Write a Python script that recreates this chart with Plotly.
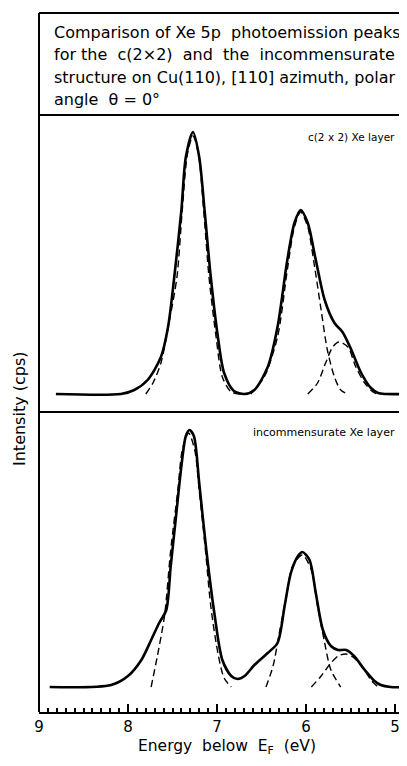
import plotly.graph_objects as go

# ---------------- data ----------------
# energies in eV below E_F, intensities in arbitrary units
top_solid_E = [8.81, 8.08, 7.93, 7.78, 7.63, 7.55, 7.48, 7.40, 7.35, 7.27, 7.20, 7.14, 7.07, 6.99, 6.92,
               6.81, 6.69, 6.58, 6.43, 6.32, 6.21, 6.13, 6.06, 5.98, 5.89, 5.79, 5.68, 5.59, 5.49,
               5.38, 5.27, 5.19, 5.10, 4.85]
top_solid_I = [0, 0, 4, 14, 37, 67, 117, 184, 237, 262, 237, 184, 117, 57, 21,
               3, 0, 4, 27, 67, 134, 171, 184, 171, 134, 94, 71, 62, 44,
               21, 6, 1, 0, 0]

top_dash1_E = [7.80, 7.72, 7.63, 7.54, 7.45, 7.39, 7.33, 7.27, 7.21, 7.15, 7.09, 7.01, 6.94, 6.84, 6.74]
top_dash1_I = [0, 11, 31, 71, 117, 184, 241, 258, 241, 184, 117, 57, 17, 2, 0]

top_dash2_E = [6.62, 6.47, 6.32, 6.21, 6.13, 6.06, 5.98, 5.91, 5.83, 5.76, 5.68, 5.61, 5.53]
top_dash2_I = [0, 17, 57, 124, 167, 182, 167, 131, 84, 44, 17, 4, 0]

top_dash3_E = [5.98, 5.87, 5.78, 5.70, 5.63, 5.53, 5.44, 5.34, 5.23, 5.16]
top_dash3_I = [0, 11, 31, 47, 52, 47, 27, 11, 1, 0]

bot_solid_E = [8.88, 8.19, 8.00, 7.85, 7.74, 7.65, 7.57, 7.52, 7.46, 7.40, 7.35, 7.31, 7.26, 7.20, 7.12,
               7.03, 6.94, 6.84, 6.77, 6.69, 6.58, 6.43, 6.32, 6.24, 6.17, 6.09, 6.04, 5.96, 5.89,
               5.81, 5.72, 5.64, 5.55, 5.46, 5.34, 5.23, 5.16, 5.05, 4.85]
bot_solid_I = [0, 2, 11, 27, 47, 64, 77, 121, 171, 221, 251, 257, 251, 204, 137,
               74, 27, 11, 8, 11, 22, 34, 44, 81, 114, 131, 135, 127, 94,
               57, 41, 37, 37, 31, 17, 6, 2, 0, 0]

bot_dash1_E = [7.74, 7.67, 7.59, 7.52, 7.44, 7.39, 7.32, 7.25, 7.20, 7.13, 7.07, 6.99, 6.92, 6.84]
bot_dash1_I = [0, 31, 71, 137, 197, 237, 254, 237, 197, 137, 81, 34, 9, 0]

bot_dash2_E = [6.45, 6.37, 6.30, 6.22, 6.15, 6.04, 5.94, 5.87, 5.79, 5.72, 5.61]
bot_dash2_I = [0, 21, 54, 91, 121, 132, 117, 81, 44, 17, 0]

bot_dash3_E = [5.94, 5.83, 5.72, 5.64, 5.55, 5.46, 5.36, 5.27, 5.19]
bot_dash3_I = [0, 11, 24, 31, 33, 29, 19, 7, 0]

x_ticks = [9, 8, 7, 6, 5]
x_tick_labels = ["9", "8", "7", "6", "5"]

title_lines = [
    "Comparison of Xe 5p  photoemission peaks",
    "for the  c(2\u00d72)  and  the  incommensurate",
    "structure on Cu(110), [110] azimuth, polar",
    "angle  \u03b8 = 0\u00b0",
]
top_label = "c(2 x 2) Xe layer"
bottom_label = "incommensurate Xe layer"
x_title = "Energy  below  E<sub>F</sub>  (eV)"
y_title = "Intensity (cps)"

# ---------------- figure ----------------
# the page body has an 8 px margin, so the figure is placed at (8, 8) in the window
OFF = 8
W, H = 407 - OFF, 766 - 2 * OFF
ML, MR, MT = 39 - OFF, 0, 13 - OFF
MB = H - (712 - OFF)
PW, PH = W - ML - MR, H - MT - MB

def py(pix):  # window pixel -> paper y
    return (H - MB - (pix - OFF)) / PH

def px(pix):  # window pixel -> paper x
    return (pix - OFF - ML) / PW

FONT = "DejaVu Sans"
solid = dict(color="black", width=2.6)
dashed = dict(color="black", width=1.4, dash="7px,4px")

fig = go.Figure()
for E, I, ln in [(top_dash1_E, top_dash1_I, dashed), (top_dash2_E, top_dash2_I, dashed),
                 (top_dash3_E, top_dash3_I, dashed), (top_solid_E, top_solid_I, solid)]:
    fig.add_trace(go.Scatter(x=E, y=I, mode="lines", line=dict(**ln, shape="spline", smoothing=0.8),
                             xaxis="x", yaxis="y2", showlegend=False, hoverinfo="skip"))
for E, I, ln in [(bot_dash1_E, bot_dash1_I, dashed), (bot_dash2_E, bot_dash2_I, dashed),
                 (bot_dash3_E, bot_dash3_I, dashed), (bot_solid_E, bot_solid_I, solid)]:
    fig.add_trace(go.Scatter(x=E, y=I, mode="lines", line=dict(**ln, shape="spline", smoothing=0.8),
                             xaxis="x", yaxis="y", showlegend=False, hoverinfo="skip"))

x_right = 9 - PW / 89.0
div = py(412)
tb = py(115)

fig.update_layout(
    width=W, height=H,
    margin=dict(l=ML, r=MR, t=MT, b=MB),
    paper_bgcolor="white", plot_bgcolor="white",
    font=dict(family=FONT, color="black"),
    xaxis=dict(range=[9, x_right], anchor="y", showgrid=False, zeroline=False,
               showline=True, linecolor="black", linewidth=2,
               ticks="inside", ticklen=8, tickwidth=2, tickcolor="black",
               tickvals=x_ticks, ticktext=x_tick_labels,
               tickfont=dict(family=FONT, size=15, color="black"),
               minor=dict(ticks="inside", dtick=0.1, ticklen=4, tickwidth=1.5, tickcolor="black", showgrid=False)),
    yaxis=dict(domain=[0, div], range=[-25, 275], visible=False, fixedrange=True),
    yaxis2=dict(domain=[div, tb], range=[-18, 279], visible=False, fixedrange=True),
)

line_k = dict(color="black", width=2)
shapes = [
    dict(type="line", xref="paper", yref="paper", x0=0, x1=0, y0=0, y1=1, line=line_k),
    dict(type="line", xref="paper", yref="paper", x0=0, x1=1.02, y0=1, y1=1, line=line_k),
    dict(type="line", xref="paper", yref="paper", x0=0, x1=1.02, y0=tb, y1=tb, line=line_k),
    dict(type="line", xref="paper", yref="paper", x0=0, x1=1.02, y0=div, y1=div, line=dict(color="black", width=2.2)),
]
fig.update_layout(shapes=shapes)

ann = []
for t, yc in zip(title_lines, [33, 55, 78, 100]):
    ann.append(dict(text=t, xref="paper", yref="paper", x=px(52), y=py(yc), xanchor="left", yanchor="middle",
                    showarrow=False, font=dict(family=FONT, size=16, color="black")))
ann.append(dict(text=top_label, xref="paper", yref="paper", x=px(397), y=py(137), xanchor="right", yanchor="middle",
                showarrow=False, font=dict(family=FONT, size=10.5, color="black")))
ann.append(dict(text=bottom_label, xref="paper", yref="paper", x=px(397), y=py(433), xanchor="right", yanchor="middle",
                showarrow=False, font=dict(family=FONT, size=11, color="black")))
ann.append(dict(text=x_title, xref="paper", yref="paper", x=px(227), y=py(747), xanchor="center", yanchor="middle",
                showarrow=False, font=dict(family=FONT, size=15.5, color="black")))
ann.append(dict(text=y_title, xref="paper", yref="paper", x=px(19), y=py(409), xanchor="center", yanchor="middle",
                textangle=-90, showarrow=False, font=dict(family=FONT, size=16, color="black")))
fig.update_layout(annotations=ann)

fig.write_html("out.html")
